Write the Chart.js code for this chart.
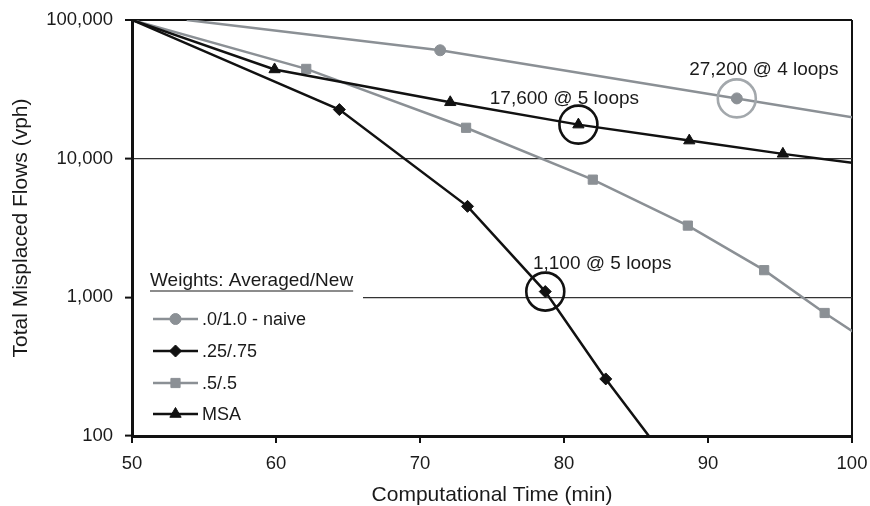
<!DOCTYPE html>
<html><head><meta charset="utf-8">
<script src="https://cdn.jsdelivr.net/npm/chart.js@4/dist/chart.umd.min.js"></script>
<style>html,body{margin:0;padding:0;background:#fff}#wrap{width:870px;height:506px}</style>
</head><body><div id="wrap"><canvas id="c" width="870" height="506"></canvas></div>
<script>
// ---- data ----
const naiveX = [53.8, 71.4, 92.0, 112.5];
const naiveY = [100000, 60500, 27200, 12200];
const w25X = [50, 64.4, 73.3, 78.7, 82.9, 86.6];
const w25Y = [100000, 22600, 4530, 1100, 258, 80];
const w50X = [50, 62.1, 73.2, 82.0, 88.6, 93.9, 98.1, 102.2];
const w50Y = [100000, 44400, 16700, 7060, 3290, 1570, 771, 405];
const msaX = [50, 59.9, 72.1, 81.0, 88.7, 95.2, 101.2];
const msaY = [100000, 44000, 25500, 17600, 13500, 10830, 9000];
const seriesNames = ['.0/1.0 - naive', '.25/.75', '.5/.5', 'MSA'];
const legendTitle = 'Weights: Averaged/New';
const xTicks = [50, 60, 70, 80, 90, 100];
const yTicks = [100, 1000, 10000, 100000];
const xTitle = 'Computational Time (min)';
const yTitle = 'Total Misplaced Flows (vph)';
const calloutSeries = [0, 3, 1];
const calloutIndex = [2, 3, 3];
const calloutText = ['27,200 @ 4 loops', '17,600 @ 5 loops', '1,100 @ 5 loops'];

// ---- styles ----
const FONT = '"Liberation Sans", Arial, Helvetica, sans-serif';
const BLACK = '#111111';
const GRAY = '#8b9095';
const RING_GRAY = '#a3a8ac';
const TEXT = '#1a1a1a';
const calloutOffsets = [[27, -29], [-14, -26], [57, -28]];

const xsArr = [naiveX, w25X, w50X, msaX];
const ysArr = [naiveY, w25Y, w50Y, msaY];
const colors = [GRAY, BLACK, GRAY, BLACK];
const styles = ['circle', 'rectRot', 'rect', 'triangle'];
const radii = [5.5, 6, 6.5, 6.5];

const datasets = xsArr.map((xs, s) => ({
  label: seriesNames[s],
  data: xs.map((x, i) => ({x: x, y: ysArr[s][i]})),
  showLine: true,
  borderColor: colors[s],
  backgroundColor: colors[s],
  borderWidth: 2.5,
  pointStyle: styles[s],
  pointRadius: c => c.dataIndex === 0 ? 0 : radii[s],
  pointBorderWidth: 1,
  pointBackgroundColor: colors[s],
  pointBorderColor: colors[s],
  tension: 0,
  clip: 0,
  order: s === 1 || s === 3 ? 1 : 2
}));

datasets.push({
  label: 'callouts',
  data: calloutSeries.map((s, i) => ({x: xsArr[s][calloutIndex[i]], y: ysArr[s][calloutIndex[i]]})),
  showLine: false,
  pointStyle: 'circle',
  pointRadius: 19,
  pointBorderWidth: 2.6,
  pointBackgroundColor: 'rgba(0,0,0,0)',
  pointBorderColor: c => calloutSeries[c.dataIndex] === 0 ? RING_GRAY : BLACK,
  clip: false,
  order: 0
});

const overlay = {
  id: 'overlay',
  afterDraw(chart) {
    const ctx = chart.ctx, xs = chart.scales.x, ys = chart.scales.y;
    ctx.save();
    ctx.font = '19px ' + FONT;
    ctx.fillStyle = TEXT;
    ctx.textAlign = 'center';
    ctx.textBaseline = 'middle';
    calloutText.forEach((t, i) => {
      const s = calloutSeries[i], k = calloutIndex[i];
      const px = xs.getPixelForValue(xsArr[s][k]) + calloutOffsets[i][0];
      const py = ys.getPixelForValue(ysArr[s][k]) + calloutOffsets[i][1];
      ctx.fillText(t, px, py);
    });
    ctx.fillStyle = '#ffffff';
    ctx.fillRect(134, 262, 229, 172);
    ctx.fillStyle = TEXT;
    ctx.textAlign = 'left';
    ctx.font = '19px ' + FONT;
    ctx.fillText(legendTitle, 150, 281);
    const tw = ctx.measureText(legendTitle).width;
    ctx.strokeStyle = TEXT;
    ctx.lineWidth = 1.2;
    ctx.beginPath(); ctx.moveTo(150, 291); ctx.lineTo(150 + tw, 291); ctx.stroke();
    const rows = [319, 351, 383, 414];
    ctx.font = '18px ' + FONT;
    seriesNames.forEach((name, s) => {
      const y = rows[s];
      ctx.strokeStyle = colors[s];
      ctx.lineWidth = 2.5;
      ctx.beginPath(); ctx.moveTo(153, y); ctx.lineTo(198, y); ctx.stroke();
      ctx.fillStyle = colors[s];
      ctx.strokeStyle = colors[s];
      ctx.lineWidth = 1;
      Chart.helpers.drawPoint(ctx, {pointStyle: styles[s], rotation: 0, radius: radii[s], borderWidth: 1}, 175.5, y);
      ctx.fillStyle = TEXT;
      ctx.fillText(name, 202, y + 1);
    });
    ctx.restore();
  }
};

new Chart(document.getElementById('c'), {
  type: 'scatter',
  data: {datasets: datasets},
  plugins: [overlay],
  options: {
    responsive: false,
    animation: false,
    devicePixelRatio: 1,
    layout: {autoPadding: false, padding: {top: 20, right: 18, left: 0, bottom: 0}},
    plugins: {legend: {display: false}, tooltip: {enabled: false}},
    events: [],
    scales: {
      x: {
        type: 'linear', min: 50, max: 100,
        afterBuildTicks: a => { a.ticks = xTicks.map(v => ({value: v})); },
        afterFit: s => { s.height = 70; s.paddingLeft = 0; s.paddingRight = 0; },
        ticks: {font: {size: 18.5, family: FONT, lineHeight: 1.95}, color: TEXT, padding: 3, maxRotation: 0},
        grid: {
          color: c => (c.tick && c.tick.value === 100) ? BLACK : 'rgba(0,0,0,0)',
          lineWidth: 2,
          tickColor: BLACK, tickLength: 7, tickWidth: 2
        },
        border: {color: BLACK, width: 3},
        title: {display: true, text: xTitle, font: {size: 21, family: FONT, lineHeight: 1}, color: TEXT, padding: {top: 0, bottom: 0}}
      },
      y: {
        type: 'logarithmic', min: 100, max: 100000,
        afterBuildTicks: a => { a.ticks = yTicks.map(v => ({value: v})); },
        afterFit: s => { s.width = 132; s.paddingTop = 0; s.paddingBottom = 0; },
        ticks: {font: {size: 18.5, family: FONT}, color: TEXT, padding: 12,
          callback: v => Number(v).toLocaleString('en-US')},
        grid: {
          color: c => {
            const v = c.tick && c.tick.value;
            if (v === 100000) return BLACK;
            if (v === 10000 || v === 1000) return '#333333';
            return 'rgba(0,0,0,0)';
          },
          lineWidth: c => (c.tick && c.tick.value === 100000) ? 2 : 1.2,
          tickColor: BLACK, tickLength: 7, tickWidth: 2
        },
        border: {color: BLACK, width: 3},
        title: {display: true, text: yTitle, font: {size: 21, family: FONT}, color: TEXT, padding: {top: 9, bottom: 0}}
      }
    }
  }
});
</script>
</body></html>
